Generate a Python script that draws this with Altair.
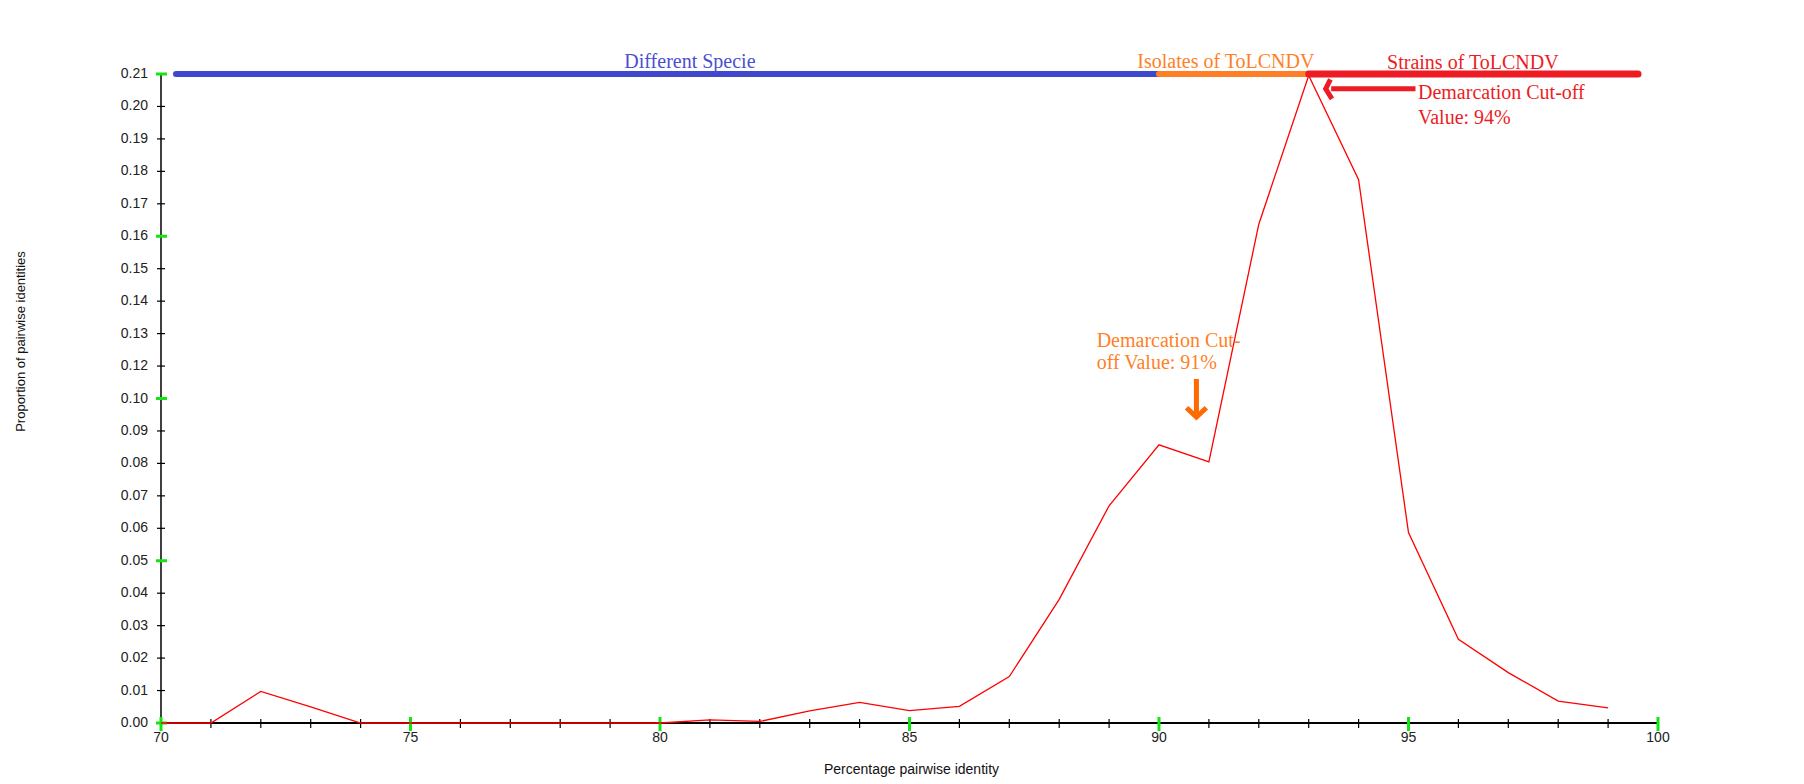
import altair as alt
import pandas as pd

# ---------------- data ----------------
pid = list(range(70, 100))
prop = [0.0, 0.0, 0.0102, 0.0052, 0.0, 0.0, 0.0, 0.0, 0.0, 0.0,
        0.0, 0.0010, 0.0005, 0.0039, 0.0067, 0.0040, 0.0054, 0.0150, 0.0400, 0.0703,
        0.0900, 0.0845, 0.1614, 0.2095, 0.1758, 0.0616, 0.0271, 0.0163, 0.0071, 0.0049]

y_ticks = [0.0, 0.0105, 0.021, 0.0315, 0.042, 0.0525, 0.063, 0.0735, 0.084, 0.0945,
           0.105, 0.1155, 0.126, 0.1365, 0.147, 0.1575, 0.168, 0.1785, 0.189, 0.1995, 0.21]
y_labels = ["0.00", "0.01", "0.02", "0.03", "0.04", "0.05", "0.06", "0.07", "0.08", "0.09",
            "0.10", "0.12", "0.13", "0.14", "0.15", "0.16", "0.17", "0.18", "0.19", "0.20", "0.21"]
y_major = [0.0, 0.0525, 0.105, 0.1575, 0.21]
x_ticks = list(range(70, 101))
x_label_vals = [70, 75, 80, 85, 90, 95, 100]
x_labels = ["70", "75", "80", "85", "90", "95", "100"]
x_major = [70, 75, 80, 85, 90, 95, 100]
x_title = "Percentage pairwise identity"
y_title = "Proportion of pairwise identities"

seg_start = [70.3, 90.0, 93.0]
seg_end = [90.0, 93.0, 99.6]
seg_level = [0.21, 0.21, 0.21]
seg_color = ["#3F48CC", "#FF7F27", "#ED1C24"]
seg_width = [6, 6, 7]
seg_label = ["Different Specie", "Isolates of ToLCNDV", "Strains of ToLCNDV"]
seg_label_x = [80.6, 91.34, 96.29]
seg_label_y = [0.2121, 0.2121, 0.2117]
seg_label_color = ["#4A4FD0", "#FF7F27", "#ED1C24"]

ann_text = ["Demarcation Cut-off", "Value: 94%", "Demarcation Cut-", "off Value: 91%"]
ann_x = [95.19, 95.19, 88.75, 88.75]
ann_y = [0.2018, 0.1938, 0.1217, 0.1145]
ann_color = ["#ED1C24", "#ED1C24", "#FF7F27", "#FF7F27"]

arrow_x = [93.45, 90.75]
arrow_x2 = [95.14, 90.75]
arrow_y = [0.2052, 0.1113]
arrow_y2 = [0.2052, 0.1002]
arrow_color = ["#ED1C24", "#FF6A00"]
head_red = {"x": [93.34], "y": [0.2052]}
head_orange = {"x": [90.75], "y": [0.0990]}

# ---------------- chart ----------------
W, H = 1497, 649
xs = alt.Scale(domain=[70, 100], nice=False, zero=False)
ys = alt.Scale(domain=[0, 0.21], nice=False, zero=True)
GREEN = "#11E611"
SANS = "Liberation Sans"
SERIF = "Liberation Serif"


def X(f):
    return alt.X(f, scale=xs, axis=None)


def Y(f):
    return alt.Y(f, scale=ys, axis=None)


line_df = pd.DataFrame({"pid": pid, "prop": prop})
seg_df = pd.DataFrame({"s": seg_start, "e": seg_end, "lvl": seg_level,
                       "c": seg_color, "w": seg_width})
seg_lab_df = pd.DataFrame({"x": seg_label_x, "y": seg_label_y, "t": seg_label, "c": seg_label_color})
ann_df = pd.DataFrame({"x": ann_x, "y": ann_y, "t": ann_text, "c": ann_color})
arrow_df = pd.DataFrame({"x": arrow_x, "x2": arrow_x2, "y": arrow_y, "y2": arrow_y2, "c": arrow_color})

# axis lines
x_domain = alt.Chart(pd.DataFrame({"a": [70], "b": [100], "y": [0.0]})).mark_rule(
    color="#000000", strokeWidth=2).encode(x=X("a:Q"), x2="b:Q", y=Y("y:Q"))
y_domain = alt.Chart(pd.DataFrame({"x": [70], "a": [0.0], "b": [0.21]})).mark_rule(
    color="#000000", strokeWidth=1.5).encode(x=X("x:Q"), y=Y("a:Q"), y2="b:Q")

ytick_rules = alt.Chart(pd.DataFrame({"v": y_ticks})).mark_rule(color="#000000", strokeWidth=1.2).encode(
    y=Y("v:Q"), x=alt.value(-4), x2=alt.value(4))
ymajor_rules = alt.Chart(pd.DataFrame({"v": y_major})).mark_rule(color=GREEN, strokeWidth=3).encode(
    y=Y("v:Q"), x=alt.value(-5), x2=alt.value(6))
xtick_rules = alt.Chart(pd.DataFrame({"v": x_ticks})).mark_rule(color="#000000", strokeWidth=1.2).encode(
    x=X("v:Q"), y=alt.value(H - 4), y2=alt.value(H + 5))
xmajor_rules = alt.Chart(pd.DataFrame({"v": x_major})).mark_rule(color=GREEN, strokeWidth=3).encode(
    x=X("v:Q"), y=alt.value(H - 6), y2=alt.value(H + 8))

y_lab = alt.Chart(pd.DataFrame({"v": y_ticks, "t": y_labels})).mark_text(
    font=SANS, fontSize=14, color="#222222", align="right", baseline="middle").encode(
    y=Y("v:Q"), x=alt.value(-13), text="t:N")
x_lab = alt.Chart(pd.DataFrame({"v": x_label_vals, "t": x_labels})).mark_text(
    font=SANS, fontSize=14, color="#222222", align="center", baseline="top").encode(
    x=X("v:Q"), y=alt.value(H + 8), text="t:N")
x_tit = alt.Chart(pd.DataFrame({"t": [x_title]})).mark_text(
    font=SANS, fontSize=14, color="#111111", align="center", baseline="middle").encode(
    x=alt.value(W / 2 + 2), y=alt.value(H + 47), text="t:N")
y_tit = alt.Chart(pd.DataFrame({"t": [y_title]})).mark_text(
    font=SANS, fontSize=13, color="#111111", align="center", baseline="middle", angle=270).encode(
    x=alt.value(-140), y=alt.value(267.5), text="t:N")

line = alt.Chart(line_df).mark_line(color="#FF0000", strokeWidth=1.3).encode(
    x=X("pid:Q"), y=Y("prop:Q"))

segs = alt.Chart(seg_df).mark_rule(strokeCap="round").encode(
    x=X("s:Q"), x2="e:Q", y=Y("lvl:Q"),
    color=alt.Color("c:N", scale=None),
    strokeWidth=alt.StrokeWidth("w:Q", scale=None))

seg_text = alt.Chart(seg_lab_df).mark_text(font=SERIF, fontSize=20, align="center",
                                           baseline="alphabetic").encode(
    x=X("x:Q"), y=Y("y:Q"), text="t:N", color=alt.Color("c:N", scale=None))

ann = alt.Chart(ann_df).mark_text(font=SERIF, fontSize=20, align="left",
                                  baseline="alphabetic").encode(
    x=X("x:Q"), y=Y("y:Q"), text="t:N", color=alt.Color("c:N", scale=None))

arrows = alt.Chart(arrow_df).mark_rule(strokeWidth=5).encode(
    x=X("x:Q"), x2="x2:Q", y=Y("y:Q"), y2="y2:Q",
    color=alt.Color("c:N", scale=None))

head_r = alt.Chart(pd.DataFrame(head_red)).mark_point(
    shape="M 0.45 -0.9 L 0 0 L 0.6 0.95", size=441, filled=False,
    stroke="#ED1C24", strokeWidth=5, opacity=1, strokeJoin="miter").encode(
    x=X("x:Q"), y=Y("y:Q"))

head_o = alt.Chart(pd.DataFrame(head_orange)).mark_point(
    shape="M -0.9 -0.85 L 0 0 L 0.9 -0.85", size=484, filled=False,
    stroke="#FF6A00", strokeWidth=5, opacity=1, strokeJoin="miter").encode(
    x=X("x:Q"), y=Y("y:Q"))

chart = alt.layer(
    x_domain, y_domain, ytick_rules, ymajor_rules, xtick_rules, xmajor_rules,
    y_lab, x_lab, x_tit, y_tit,
    line, segs, seg_text, ann, arrows, head_r, head_o
).properties(
    width=W, height=H,
    autosize=alt.AutoSizeParams(type="none"),
    padding={"left": 153, "top": 66, "right": 120, "bottom": 58},
    background="#FFFFFF",
).configure_view(stroke="transparent")

chart.save("out.html", embed_options={"renderer": "svg", "actions": False})
